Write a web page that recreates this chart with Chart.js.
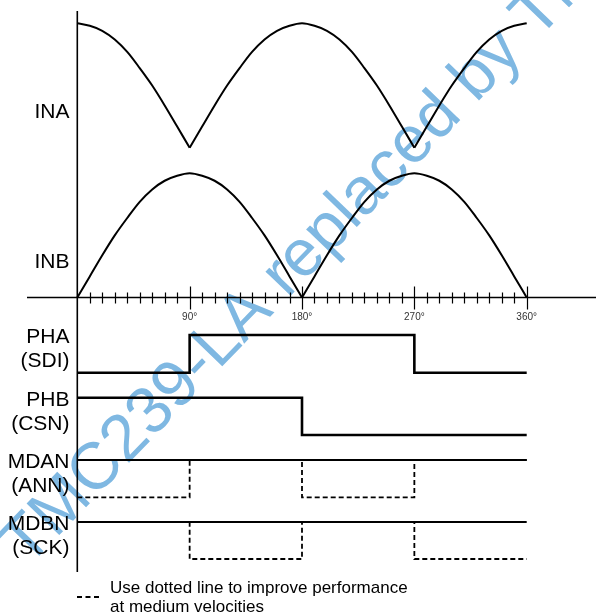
<!DOCTYPE html>
<html>
<head>
<meta charset="utf-8">
<script src="https://cdn.jsdelivr.net/npm/chart.js@4/dist/chart.umd.min.js"></script>
<style>
  html, body { margin: 0; padding: 0; background: #fff; }
  canvas { display: block; }
</style>
</head>
<body>
<canvas id="timing" width="596" height="616"></canvas>
<script>
// sampled rotor angle (deg) for the analog currents
const angles = [0, 10, 20, 30, 40, 50, 60, 70, 80, 90, 100, 110, 120, 130, 140, 150, 160, 170, 180,
  190, 200, 210, 220, 230, 240, 250, 260, 270, 280, 290, 300, 310, 320, 330, 340, 350, 360];
const ina = [1.00, 0.98, 0.94, 0.87, 0.77, 0.64, 0.50, 0.34, 0.17, 0.00, 0.17, 0.34, 0.50, 0.64, 0.77, 0.87, 0.94, 0.98, 1.00,
  0.98, 0.94, 0.87, 0.77, 0.64, 0.50, 0.34, 0.17, 0.00, 0.17, 0.34, 0.50, 0.64, 0.77, 0.87, 0.94, 0.98, 1.00];
const inb = [0.00, 0.17, 0.34, 0.50, 0.64, 0.77, 0.87, 0.94, 0.98, 1.00, 0.98, 0.94, 0.87, 0.77, 0.64, 0.50, 0.34, 0.17, 0.00,
  0.17, 0.34, 0.50, 0.64, 0.77, 0.87, 0.94, 0.98, 1.00, 0.98, 0.94, 0.87, 0.77, 0.64, 0.50, 0.34, 0.17, 0.00];
// angles where the rectified curves have a cusp
const inaCusps = [90, 270];
const inbCusps = [180];

// digital lines, level holds from each edge to the next one
const edges = [0, 90, 180, 270, 360];
const pha = [0, 1, 1, 0, 0];
const phb = [1, 1, 0, 0, 0];
const mdanSolid = [1, 1, 1, 1, 1];
const mdanDotted = [0, 1, 0, 1, 1];
const mdbnSolid = [1, 1, 1, 1, 1];
const mdbnDotted = [1, 0, 1, 0, 0];

const majorTicks = [90, 180, 270, 360];
const majorTickLabels = ['90\u00B0', '180\u00B0', '270\u00B0', '360\u00B0'];
const minorTicks = [10, 20, 30, 40, 50, 60, 70, 80, 100, 110, 120, 130, 140, 150, 160, 170,
  190, 200, 210, 220, 230, 240, 250, 260, 280, 290, 300, 310, 320, 330, 340, 350];

const signalNames = {
  ina: ['INA'], inb: ['INB'],
  pha: ['PHA', '(SDI)'], phb: ['PHB', '(CSN)'],
  mdan: ['MDAN', '(ANN)'], mdbn: ['MDBN', '(SCK)']
};
const noteLines = ['Use dotted line to improve performance', 'at medium velocities'];
const watermark = 'TMC239-LA replaced by TMC249-LA';

const W = 596, H = 616;
const FONT = '"Liberation Sans", Arial, sans-serif';

// pixel band (top = level 1, bottom = level 0) of every lane
const lanes = {
  ina: [23.3, 147.7], inb: [173.3, 297.5],
  pha: [335, 372.7], phb: [397.7, 435],
  mdan: [460, 497.3], mdbn: [522, 559]
};

function laneScale(band) {
  const per = band[1] - band[0];
  const min = -(H - band[1]) / per;
  return { type: 'linear', axis: 'y', display: false, min: min, max: min + H / per, bounds: 'data' };
}

function xRange(px0, px360) {
  const per = (px360 - px0) / 360;
  return { min: -px0 / per, max: (W - px0) / per };
}

function pts(xs, ys) {
  return xs.map((x, i) => ({ x: x, y: ys[i] }));
}

function trace(lane, xs, ys, extra) {
  return Object.assign({
    data: pts(xs, ys), yAxisID: lane, xAxisID: 'x',
    borderColor: '#000', borderWidth: 2, pointRadius: 0, tension: 0,
    fill: false, borderJoinStyle: 'miter'
  }, extra || {});
}

// one smooth dataset per hump so the cusps stay sharp
function humps(lane, ys, cusps) {
  const cuts = [0].concat(cusps.map(c => angles.indexOf(c)), [angles.length - 1]);
  const out = [];
  for (let i = 0; i < cuts.length - 1; i++) {
    const a = cuts[i], b = cuts[i + 1] + 1;
    out.push(trace(lane, angles.slice(a, b), ys.slice(a, b), { cubicInterpolationMode: 'monotone', borderWidth: 2 }));
  }
  return out;
}

const dotted = { borderDash: [5, 3], borderWidth: 1.8, stepped: true };

const decorations = {
  id: 'decorations',
  beforeDatasetsDraw(chart) {
    const ctx = chart.ctx;
    ctx.save();
    ctx.translate(27.5, 568);
    ctx.rotate(-46 * Math.PI / 180);
    ctx.font = '66px ' + FONT;
    ctx.fillStyle = '#7fb8e2';
    ctx.textBaseline = 'alphabetic';
    ctx.fillText(watermark, 0, 0);
    ctx.restore();
  },
  afterDatasetsDraw(chart) {
    const ctx = chart.ctx;
    const x = chart.scales.x;
    const axisY = chart.scales.inb.getPixelForValue(0);
    const x0 = x.getPixelForValue(0);

    ctx.save();
    ctx.strokeStyle = '#000';
    ctx.lineWidth = 1.6;
    ctx.beginPath();
    ctx.moveTo(x0, 11);
    ctx.lineTo(x0, 572);
    ctx.moveTo(27, axisY);
    ctx.lineTo(W, axisY);
    ctx.stroke();

    ctx.lineWidth = 1.2;
    ctx.beginPath();
    minorTicks.forEach(a => {
      const px = Math.round(x.getPixelForValue(a)) + 0.5;
      ctx.moveTo(px, axisY - 5);
      ctx.lineTo(px, axisY + 6);
    });
    majorTicks.forEach(a => {
      const px = Math.round(x.getPixelForValue(a)) + 0.5;
      ctx.moveTo(px, axisY - 11);
      ctx.lineTo(px, axisY + 12);
    });
    ctx.stroke();

    ctx.fillStyle = '#333';
    ctx.font = '10px ' + FONT;
    ctx.textAlign = 'center';
    ctx.textBaseline = 'alphabetic';
    majorTicks.forEach((a, i) => {
      ctx.fillText(majorTickLabels[i], x.getPixelForValue(a), axisY + 22.5);
    });

    // signal names
    ctx.fillStyle = '#000';
    ctx.font = '21px ' + FONT;
    ctx.textAlign = 'right';
    Object.keys(signalNames).forEach(id => {
      const scale = chart.scales[id];
      const lines = signalNames[id];
      if (lines.length === 1) {
        ctx.fillText(lines[0], 69.5, scale.getPixelForValue(0.24));
      } else {
        const top = scale.getPixelForValue(1) + 7.8;
        ctx.fillText(lines[0], 69.5, top);
        ctx.fillText(lines[1], 69.5, top + 24.5);
      }
    });

    // note with dashed marker
    ctx.lineWidth = 2;
    ctx.setLineDash([5, 3.5]);
    ctx.beginPath();
    ctx.moveTo(77, 597);
    ctx.lineTo(99, 597);
    ctx.stroke();
    ctx.setLineDash([]);
    ctx.font = '17px ' + FONT;
    ctx.textAlign = 'left';
    ctx.fillText(noteLines[0], 110, 592.7);
    ctx.fillText(noteLines[1], 110, 611.7);
    ctx.restore();
  }
};

const xr = xRange(77.3, 526.7);

new Chart(document.getElementById('timing'), {
  type: 'line',
  data: {
    datasets: [].concat(
      humps('ina', ina, inaCusps),
      humps('inb', inb, inbCusps),
      [
        trace('pha', edges, pha, { stepped: true, borderWidth: 2.6 }),
        trace('phb', edges, phb, { stepped: true, borderWidth: 2.6 }),
        trace('mdan', edges, mdanSolid, { stepped: true, borderWidth: 2 }),
        trace('mdan', edges, mdanDotted, dotted),
        trace('mdbn', edges, mdbnSolid, { stepped: true, borderWidth: 2 }),
        trace('mdbn', edges, mdbnDotted, dotted)
      ]
    )
  },
  options: {
    responsive: false,
    animation: false,
    events: [],
    layout: { autoPadding: false, padding: 0 },
    plugins: { legend: { display: false }, tooltip: { enabled: false } },
    scales: {
      x: { type: 'linear', display: false, min: xr.min, max: xr.max, bounds: 'data' },
      ina: laneScale(lanes.ina),
      inb: laneScale(lanes.inb),
      pha: laneScale(lanes.pha),
      phb: laneScale(lanes.phb),
      mdan: laneScale(lanes.mdan),
      mdbn: laneScale(lanes.mdbn)
    }
  },
  plugins: [decorations]
});
</script>
</body>
</html>
